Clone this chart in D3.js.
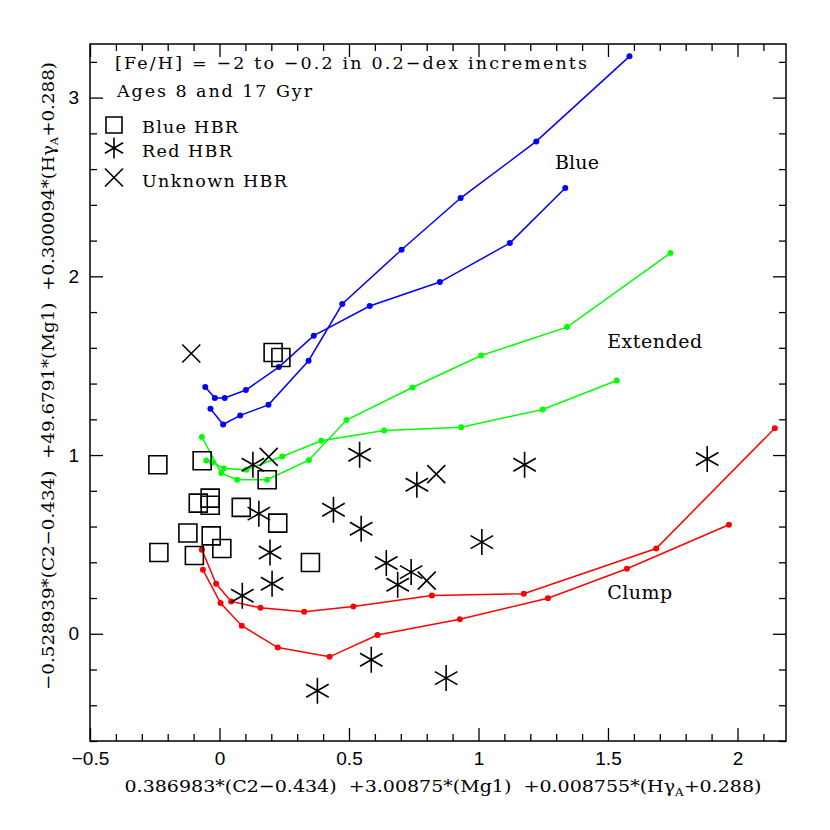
<!DOCTYPE html>
<html><head><meta charset="utf-8">
<script src="https://cdn.jsdelivr.net/npm/d3@7"></script>
<style>body{margin:0;background:#fff} text{white-space:pre}</style>
</head><body>
<svg id="c" width="830" height="830"></svg>
<script>
// ---- data ----
const blueTrack1 = [[-0.055,1.381],[-0.018,1.319],[0.020,1.319],[0.102,1.364],[0.229,1.492],[0.364,1.668],[0.580,1.834],[0.851,1.968],[1.121,2.186],[1.335,2.494]];
const blueTrack2 = [[-0.035,1.259],[0.014,1.171],[0.080,1.222],[0.189,1.281],[0.344,1.528],[0.474,1.845],[0.703,2.149],[0.931,2.438],[1.223,2.755],[1.583,3.231]];
const greenTrack1 = [[-0.068,1.101],[0.007,0.899],[0.068,0.862],[0.184,0.862],[0.345,0.971],[0.490,1.196],[0.745,1.378],[1.010,1.557],[1.342,1.716],[1.741,2.130]];
const greenTrack2 = [[-0.051,0.970],[-0.028,0.959],[0.017,0.925],[0.103,0.918],[0.242,0.992],[0.393,1.080],[0.636,1.138],[0.933,1.156],[1.248,1.255],[1.534,1.417]];
const redTrack1 = [[-0.068,0.470],[-0.013,0.280],[0.045,0.181],[0.158,0.145],[0.327,0.123],[0.517,0.153],[0.820,0.214],[1.175,0.224],[1.686,0.477],[2.144,1.150]];
const redTrack2 = [[-0.064,0.358],[0.004,0.172],[0.086,0.045],[0.225,-0.077],[0.425,-0.129],[0.610,-0.007],[0.928,0.081],[1.268,0.199],[1.573,0.364],[1.967,0.610]];
const blueHBR = [[0.207,1.574],[0.237,1.546],[-0.238,0.946],[-0.067,0.968],[0.184,0.862],[-0.082,0.731],[-0.036,0.759],[-0.036,0.719],[0.084,0.707],[0.225,0.619],[-0.122,0.564],[-0.032,0.548],[0.009,0.477],[-0.234,0.455],[-0.097,0.438],[0.351,0.399]];
const redHBR = [[0.129,0.946],[0.541,1.002],[0.762,0.834],[1.178,0.946],[0.440,0.694],[0.547,0.588],[1.013,0.513],[0.644,0.396],[0.740,0.345],[0.688,0.274],[0.586,-0.145],[0.875,-0.248],[1.883,0.978],[0.152,0.672],[0.195,0.455],[0.203,0.280],[0.088,0.213],[0.378,-0.319]];
const unknownHBR = [[-0.109,1.568],[0.190,0.990],[0.837,0.893],[0.800,0.297]];
const xTicks = [-0.5,0,0.5,1,1.5,2];
const yTicks = [0,1,2,3];
const trackLabels = [["Blue",1.295,2.60],["Extended",1.497,1.60],["Clump",1.497,0.195]];

// ---- layout ----
const L=90,R=786,T=44,B=741;
const svg=d3.select("#c");
const x=d3.scaleLinear().domain([-0.5,2.1873]).range([L,R]);
const y=d3.scaleLinear().domain([-0.6,3.3]).range([B,T]);

const tickFont="'Liberation Sans', Arial, sans-serif";
const serif="'DejaVu Serif', serif";
const fmt=d3.format("");
const xMinor=d3.range(-0.5,2.19,0.1).map(v=>+v.toFixed(2)).filter(v=>!xTicks.some(t=>Math.abs(t-v)<1e-6));
const yMinor=d3.range(-0.6,3.31,0.2).map(v=>+v.toFixed(2)).filter(v=>!yTicks.some(t=>Math.abs(t-v)<1e-6));

function styleAxis(g){g.select(".domain").remove();g.selectAll("line").attr("stroke","#000").attr("stroke-width",1.3);
  g.selectAll("text").attr("font-family",tickFont).attr("font-size",19).attr("fill","#000");}
svg.append("g").attr("transform",`translate(0,${B})`).call(d3.axisBottom(x).tickValues(xTicks).tickFormat(fmt).tickSize(-13).tickPadding(11)).call(styleAxis);
svg.append("g").attr("transform",`translate(0,${B})`).call(d3.axisBottom(x).tickValues(xMinor).tickFormat("").tickSize(-7)).call(styleAxis);
svg.append("g").attr("transform",`translate(0,${T})`).call(d3.axisTop(x).tickValues(xTicks).tickFormat("").tickSize(-13)).call(styleAxis);
svg.append("g").attr("transform",`translate(0,${T})`).call(d3.axisTop(x).tickValues(xMinor).tickFormat("").tickSize(-7)).call(styleAxis);
svg.append("g").attr("transform",`translate(${L},0)`).call(d3.axisLeft(y).tickValues(yTicks).tickFormat(fmt).tickSize(-13).tickPadding(11)).call(styleAxis);
svg.append("g").attr("transform",`translate(${L},0)`).call(d3.axisLeft(y).tickValues(yMinor).tickFormat("").tickSize(-7)).call(styleAxis);
svg.append("g").attr("transform",`translate(${R},0)`).call(d3.axisRight(y).tickValues(yTicks).tickFormat("").tickSize(-13)).call(styleAxis);
svg.append("g").attr("transform",`translate(${R},0)`).call(d3.axisRight(y).tickValues(yMinor).tickFormat("").tickSize(-7)).call(styleAxis);
svg.append("rect").attr("x",L).attr("y",T).attr("width",R-L).attr("height",B-T).attr("fill","none").attr("stroke","#000").attr("stroke-width",1.5);

// ---- tracks ----
const line=d3.line().x(d=>x(d[0])).y(d=>y(d[1]));
const tracks=[[blueTrack1,"#0000ff"],[blueTrack2,"#0000ff"],[greenTrack1,"#00ff00"],[greenTrack2,"#00ff00"],[redTrack1,"#ff0000"],[redTrack2,"#ff0000"]];
tracks.forEach(([d,c])=>{
  svg.append("path").datum(d).attr("d",line).attr("fill","none").attr("stroke",c).attr("stroke-width",1.5);
  svg.append("g").selectAll("circle").data(d).join("circle").attr("cx",p=>x(p[0])).attr("cy",p=>y(p[1])).attr("r",3).attr("fill",c);
});

// ---- markers ----
function sq(s){return `M${-s/2},${-s/2}h${s}v${s}h${-s}Z`;}
function ast(r){const c=r*Math.cos(Math.PI/6),s=r*Math.sin(Math.PI/6);return `M0,${-r}V${r}M${-c},${-s}L${c},${s}M${-c},${s}L${c},${-s}`;}
function cross(h){return `M${-h},${-h}L${h},${h}M${-h},${h}L${h},${-h}`;}
const mk=(data,path)=>svg.append("g").selectAll("path").data(data).join("path")
  .attr("transform",d=>`translate(${x(d[0])},${y(d[1])})`).attr("d",path)
  .attr("fill","none").attr("stroke","#000").attr("stroke-width",1.6);
mk(blueHBR,sq(18));
mk(redHBR,ast(13));
mk(unknownHBR,cross(9));

// ---- annotations ----
function txt(s,px,py,size,len){const t=svg.append("text").attr("x",px).attr("y",py).attr("font-family",serif).attr("font-size",size).attr("fill","#000").text(s);
  if(len) t.attr("textLength",len).attr("lengthAdjust","spacing"); return t;}
txt("[Fe/H] = \u22122 to \u22120.2 in 0.2\u2212dex increments",115,69,17.5,472);
txt("Ages 8 and 17 Gyr",117,97,17.5,195);
// legend
svg.append("path").attr("transform","translate(114,125)").attr("d",sq(16)).attr("fill","none").attr("stroke","#000").attr("stroke-width",1.6);
svg.append("path").attr("transform","translate(114,148)").attr("d",ast(10.5)).attr("fill","none").attr("stroke","#000").attr("stroke-width",1.6);
svg.append("path").attr("transform","translate(114,177.5)").attr("d",cross(9)).attr("fill","none").attr("stroke","#000").attr("stroke-width",1.6);
txt("Blue HBR",142,133,17.5,96);
txt("Red HBR",142,157,17.5,90);
txt("Unknown HBR",142,187,17.5,145);
trackLabels.forEach(([s,a,b],i)=>txt(s,x(a),y(b),19,[44,95,65][i]));

// ---- axis titles ----
const xt=svg.append("text").attr("x",443).attr("y",792).attr("text-anchor","middle").attr("font-family",serif).attr("font-size",17.5).attr("fill","#000");
xt.append("tspan").text("0.386983*(C2\u22120.434)  +3.00875*(Mg1)  +0.008755*(H\u03b3");
xt.append("tspan").attr("font-size",11).attr("dy",4).text("A");
xt.append("tspan").attr("dy",-4).text("+0.288)");
xt.attr("textLength",637).attr("lengthAdjust","spacingAndGlyphs");
const yt=svg.append("text").attr("transform","translate(54,376) rotate(-90)").attr("text-anchor","middle").attr("font-family",serif).attr("font-size",17.5).attr("fill","#000");
yt.append("tspan").text("\u22120.528939*(C2\u22120.434)  +49.6791*(Mg1)  +0.300094*(H\u03b3");
yt.append("tspan").attr("font-size",11).attr("dy",4).text("A");
yt.append("tspan").attr("dy",-4).text("+0.288)");
yt.attr("textLength",628).attr("lengthAdjust","spacingAndGlyphs");
</script>
</body></html>
